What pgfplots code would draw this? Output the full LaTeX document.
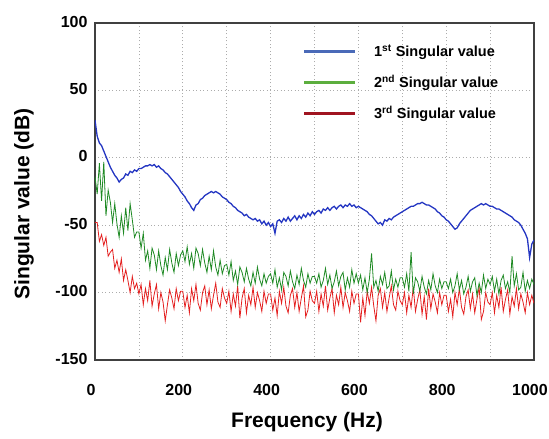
\documentclass[border=0pt]{standalone}
\usepackage{fontspec}
\setmainfont{Liberation Sans}
\usepackage{pgfplots}
\usepackage{pgfplotstable}
\pgfplotsset{compat=1.18}

\definecolor{sv1}{HTML}{2436C2}
\definecolor{sv2}{HTML}{1F8A24}
\definecolor{sv3}{HTML}{E42020}
\definecolor{lg1}{HTML}{4A6AB8}
\definecolor{lg2}{HTML}{5CAE3E}
\definecolor{lg3}{HTML}{A01420}

% first singular value (dB) vs frequency (Hz)
\pgfplotstableread[row sep=\\]{f s\\
0 28\\ 5 16\\ 10 11\\ 15 9\\ 20 5\\ 25 1\\ 30 -3\\ 35 -7\\ 40 -10\\ 45 -13\\
50 -15\\ 55 -18\\ 60 -16\\ 65 -15\\ 70 -12\\ 75 -13\\ 80 -10\\ 85 -11\\ 90 -9\\ 95 -10\\
100 -8\\ 105 -8\\ 110 -7\\ 115 -6\\ 120 -6\\ 125 -5\\ 130 -6\\ 135 -5\\ 140 -7\\ 145 -6\\
150 -8\\ 155 -9\\ 160 -11\\ 165 -12\\ 170 -14\\ 175 -16\\ 180 -18\\ 185 -20\\ 190 -22\\ 195 -25\\
200 -27\\ 205 -29\\ 210 -32\\ 215 -34\\ 220 -37\\ 225 -39\\ 230 -35\\ 235 -34\\ 240 -31\\ 245 -30\\
250 -28\\ 255 -27\\ 260 -26\\ 265 -25\\ 270 -26\\ 275 -25\\ 280 -26\\ 285 -27\\ 290 -29\\ 295 -30\\
300 -31\\ 305 -33\\ 310 -34\\ 315 -36\\ 320 -37\\ 325 -39\\ 330 -40\\ 335 -41\\ 340 -43\\ 345 -42\\
350 -44\\ 355 -45\\ 360 -46\\ 365 -45\\ 370 -47\\ 375 -46\\ 380 -49\\ 385 -47\\ 390 -50\\ 395 -48\\
400 -51\\ 405 -49\\ 410 -56\\ 415 -47\\ 420 -46\\ 425 -48\\ 430 -45\\ 435 -47\\ 440 -44\\ 445 -47\\
450 -45\\ 455 -43\\ 460 -46\\ 465 -43\\ 470 -45\\ 475 -42\\ 480 -44\\ 485 -41\\ 490 -43\\ 495 -40\\
500 -42\\ 505 -40\\ 510 -39\\ 515 -41\\ 520 -38\\ 525 -39\\ 530 -37\\ 535 -39\\ 540 -37\\ 545 -36\\
550 -38\\ 555 -36\\ 560 -35\\ 565 -37\\ 570 -35\\ 575 -36\\ 580 -34\\ 585 -36\\ 590 -35\\ 595 -37\\
600 -36\\ 605 -37\\ 610 -38\\ 615 -39\\ 620 -40\\ 625 -42\\ 630 -43\\ 635 -45\\ 640 -47\\ 645 -49\\
650 -48\\ 655 -50\\ 660 -46\\ 665 -47\\ 670 -45\\ 675 -46\\ 680 -44\\ 685 -43\\ 690 -42\\ 695 -41\\
700 -40\\ 705 -39\\ 710 -38\\ 715 -37\\ 720 -36\\ 725 -36\\ 730 -35\\ 735 -34\\ 740 -34\\ 745 -33\\
750 -34\\ 755 -35\\ 760 -35\\ 765 -36\\ 770 -37\\ 775 -38\\ 780 -40\\ 785 -41\\ 790 -43\\ 795 -44\\
800 -46\\ 805 -47\\ 810 -49\\ 815 -51\\ 820 -53\\ 825 -52\\ 830 -49\\ 835 -47\\ 840 -45\\ 845 -43\\
850 -41\\ 855 -39\\ 860 -38\\ 865 -37\\ 870 -36\\ 875 -35\\ 880 -34\\ 885 -35\\ 890 -34\\ 895 -35\\
900 -36\\ 905 -36\\ 910 -37\\ 915 -38\\ 920 -38\\ 925 -39\\ 930 -40\\ 935 -41\\ 940 -42\\ 945 -43\\
950 -44\\ 955 -46\\ 960 -47\\ 965 -48\\ 970 -50\\ 975 -53\\ 980 -56\\ 985 -60\\ 990 -74\\ 995 -64\\
1000 -61\\
}\svone

% second singular value
\pgfplotstableread[row sep=\\]{f s\\
0 -14\\ 5 -27\\ 10 -4\\ 15 -32\\ 20 -3\\ 25 -43\\ 30 -24\\ 35 -33\\ 40 -48\\ 45 -34\\
50 -49\\ 55 -59\\ 60 -43\\ 65 -56\\ 70 -37\\ 75 -54\\ 80 -34\\ 85 -46\\ 90 -59\\ 95 -55\\
100 -55\\ 105 -67\\ 110 -56\\ 115 -76\\ 120 -69\\ 125 -82\\ 130 -67\\ 135 -72\\ 140 -83\\ 145 -69\\
150 -80\\ 155 -87\\ 160 -74\\ 165 -83\\ 170 -68\\ 175 -78\\ 180 -85\\ 185 -71\\ 190 -80\\ 195 -72\\
200 -69\\ 205 -77\\ 210 -66\\ 215 -79\\ 220 -71\\ 225 -82\\ 230 -67\\ 235 -71\\ 240 -80\\ 245 -68\\
250 -78\\ 255 -85\\ 260 -73\\ 265 -83\\ 270 -69\\ 275 -81\\ 280 -87\\ 285 -76\\ 290 -86\\ 295 -80\\
300 -79\\ 305 -87\\ 310 -77\\ 315 -91\\ 320 -84\\ 325 -94\\ 330 -81\\ 335 -85\\ 340 -92\\ 345 -82\\
350 -90\\ 355 -95\\ 360 -85\\ 365 -93\\ 370 -81\\ 375 -90\\ 380 -95\\ 385 -86\\ 390 -93\\ 395 -88\\
400 -86\\ 405 -93\\ 410 -83\\ 415 -96\\ 420 -89\\ 425 -98\\ 430 -85\\ 435 -88\\ 440 -95\\ 445 -84\\
450 -92\\ 455 -97\\ 460 -87\\ 465 -94\\ 470 -82\\ 475 -91\\ 480 -96\\ 485 -86\\ 490 -93\\ 495 -88\\
500 -88\\ 505 -93\\ 510 -86\\ 515 -96\\ 520 -91\\ 525 -82\\ 530 -94\\ 535 -87\\ 540 -97\\ 545 -92\\
550 -84\\ 555 -95\\ 560 -88\\ 565 -85\\ 570 -98\\ 575 -89\\ 580 -96\\ 585 -83\\ 590 -93\\ 595 -86\\
600 -93\\ 605 -87\\ 610 -98\\ 615 -89\\ 620 -100\\ 625 -90\\ 630 -71\\ 635 -96\\ 640 -91\\ 645 -99\\
650 -88\\ 655 -94\\ 660 -85\\ 665 -97\\ 670 -95\\ 675 -84\\ 680 -98\\ 685 -90\\ 690 -96\\ 695 -89\\
700 -89\\ 705 -96\\ 710 -86\\ 715 -99\\ 720 -70\\ 725 -101\\ 730 -89\\ 735 -92\\ 740 -99\\ 745 -88\\
750 -96\\ 755 -101\\ 760 -91\\ 765 -98\\ 770 -86\\ 775 -95\\ 780 -100\\ 785 -90\\ 790 -97\\ 795 -92\\
800 -92\\ 805 -97\\ 810 -90\\ 815 -100\\ 820 -95\\ 825 -86\\ 830 -98\\ 835 -91\\ 840 -101\\ 845 -96\\
850 -88\\ 855 -99\\ 860 -92\\ 865 -89\\ 870 -102\\ 875 -93\\ 880 -100\\ 885 -87\\ 890 -97\\ 895 -90\\
900 -94\\ 905 -88\\ 910 -99\\ 915 -90\\ 920 -101\\ 925 -91\\ 930 -87\\ 935 -97\\ 940 -92\\ 945 -100\\
950 -73\\ 955 -95\\ 960 -86\\ 965 -98\\ 970 -96\\ 975 -85\\ 980 -99\\ 985 -91\\ 990 -97\\ 995 -90\\
1000 -94\\
}\svtwo

% third singular value
\pgfplotstableread[row sep=\\]{f s\\
0 -48\\ 5 -48\\ 10 -62\\ 15 -57\\ 20 -65\\ 25 -59\\ 30 -73\\ 35 -70\\ 40 -68\\ 45 -82\\
50 -76\\ 55 -85\\ 60 -75\\ 65 -91\\ 70 -83\\ 75 -91\\ 80 -100\\ 85 -88\\ 90 -97\\ 95 -93\\
100 -101\\ 105 -94\\ 110 -109\\ 115 -97\\ 120 -106\\ 125 -91\\ 130 -110\\ 135 -101\\ 140 -94\\ 145 -112\\
150 -100\\ 155 -107\\ 160 -121\\ 165 -109\\ 170 -98\\ 175 -104\\ 180 -112\\ 185 -97\\ 190 -106\\ 195 -99\\
200 -99\\ 205 -111\\ 210 -102\\ 215 -115\\ 220 -97\\ 225 -106\\ 230 -94\\ 235 -108\\ 240 -113\\ 245 -100\\
250 -95\\ 255 -109\\ 260 -98\\ 265 -112\\ 270 -102\\ 275 -93\\ 280 -107\\ 285 -111\\ 290 -97\\ 295 -104\\
300 -108\\ 305 -99\\ 310 -114\\ 315 -101\\ 320 -110\\ 325 -95\\ 330 -119\\ 335 -104\\ 340 -97\\ 345 -115\\
350 -102\\ 355 -109\\ 360 -96\\ 365 -111\\ 370 -100\\ 375 -106\\ 380 -114\\ 385 -99\\ 390 -108\\ 395 -101\\
400 -101\\ 405 -113\\ 410 -104\\ 415 -117\\ 420 -99\\ 425 -108\\ 430 -96\\ 435 -110\\ 440 -115\\ 445 -102\\
450 -97\\ 455 -111\\ 460 -100\\ 465 -114\\ 470 -104\\ 475 -95\\ 480 -118\\ 485 -113\\ 490 -99\\ 495 -106\\
500 -108\\ 505 -99\\ 510 -114\\ 515 -101\\ 520 -110\\ 525 -95\\ 530 -113\\ 535 -104\\ 540 -97\\ 545 -115\\
550 -102\\ 555 -109\\ 560 -96\\ 565 -111\\ 570 -100\\ 575 -106\\ 580 -114\\ 585 -99\\ 590 -108\\ 595 -101\\
600 -101\\ 605 -122\\ 610 -104\\ 615 -117\\ 620 -99\\ 625 -108\\ 630 -96\\ 635 -110\\ 640 -121\\ 645 -102\\
650 -97\\ 655 -111\\ 660 -100\\ 665 -114\\ 670 -104\\ 675 -95\\ 680 -109\\ 685 -113\\ 690 -99\\ 695 -106\\
700 -109\\ 705 -100\\ 710 -115\\ 715 -102\\ 720 -111\\ 725 -96\\ 730 -114\\ 735 -105\\ 740 -98\\ 745 -116\\
750 -103\\ 755 -120\\ 760 -97\\ 765 -112\\ 770 -101\\ 775 -107\\ 780 -115\\ 785 -100\\ 790 -109\\ 795 -102\\
800 -102\\ 805 -114\\ 810 -105\\ 815 -118\\ 820 -100\\ 825 -109\\ 830 -97\\ 835 -111\\ 840 -116\\ 845 -103\\
850 -98\\ 855 -112\\ 860 -101\\ 865 -115\\ 870 -105\\ 875 -96\\ 880 -120\\ 885 -114\\ 890 -100\\ 895 -107\\
900 -109\\ 905 -100\\ 910 -115\\ 915 -102\\ 920 -111\\ 925 -96\\ 930 -114\\ 935 -105\\ 940 -98\\ 945 -116\\
950 -103\\ 955 -110\\ 960 -97\\ 965 -112\\ 970 -101\\ 975 -107\\ 980 -115\\ 985 -100\\ 990 -109\\ 995 -102\\
1000 -108\\
}\svthree

\begin{document}
\begin{tikzpicture}
\path[use as bounding box] (-95pt,-79pt) rectangle (454pt,360pt);
\begin{axis}[
  scale only axis, width=439pt, height=337pt,
  xmin=0, xmax=1000, ymin=-150, ymax=100,
  xtick={0,200,...,1000}, minor xtick={100,300,...,900},
  ytick={-150,-100,...,100},
  grid=both,
  major grid style={gray!65, line width=0.6pt, dash pattern=on 1pt off 2.5pt},
  minor grid style={gray!65, line width=0.6pt, dash pattern=on 1pt off 2.5pt},
  major tick length=0pt, minor tick length=0pt,
  axis line style={draw=black!75, line width=1.1pt},
  /pgf/number format/assume math mode=true,
  /pgf/number format/1000 sep={},
  tick label style={font=\fontsize{16}{16}\selectfont\bfseries},
  xticklabel style={anchor=base, yshift=-35pt, xshift=-4pt},
  yticklabel style={xshift=-4pt, yshift=1.5pt},
  xlabel={Frequency (Hz)},
  ylabel={Singular value (dB)},
  xlabel style={font=\fontsize{21}{21}\selectfont\bfseries,
    at={(axis description cs:0.483,-0.184)}, anchor=center},
  ylabel style={font=\fontsize{21}{21}\selectfont\bfseries,
    at={(axis description cs:-0.162,0.463)}, anchor=center},
  legend style={draw=none, fill=none, inner sep=0pt,
    at={(axis description cs:0.476,0.936)}, anchor=north west,
    font=\fontsize{14.5}{14.5}\selectfont\bfseries,
    row sep=17pt, column sep=19pt, nodes={inner sep=0pt}},
  legend cell align=left,
  legend image code/.code={\fill[#1, draw=none] (0pt,-1.6pt) rectangle (51pt,1.6pt);},
]
\addlegendimage{fill=lg1}
\addlegendentry{1\textsuperscript{st} Singular value}
\addlegendimage{fill=lg2}
\addlegendentry{2\textsuperscript{nd} Singular value}
\addlegendimage{fill=lg3}
\addlegendentry{3\textsuperscript{rd} Singular value}

\addplot[sv3, line width=0.8pt, forget plot] table[x=f, y=s] {\svthree};
\addplot[sv2, line width=0.8pt, forget plot] table[x=f, y=s] {\svtwo};
\addplot[sv1, line width=1.3pt, forget plot] table[x=f, y=s] {\svone};
\end{axis}
\end{tikzpicture}
\end{document}
